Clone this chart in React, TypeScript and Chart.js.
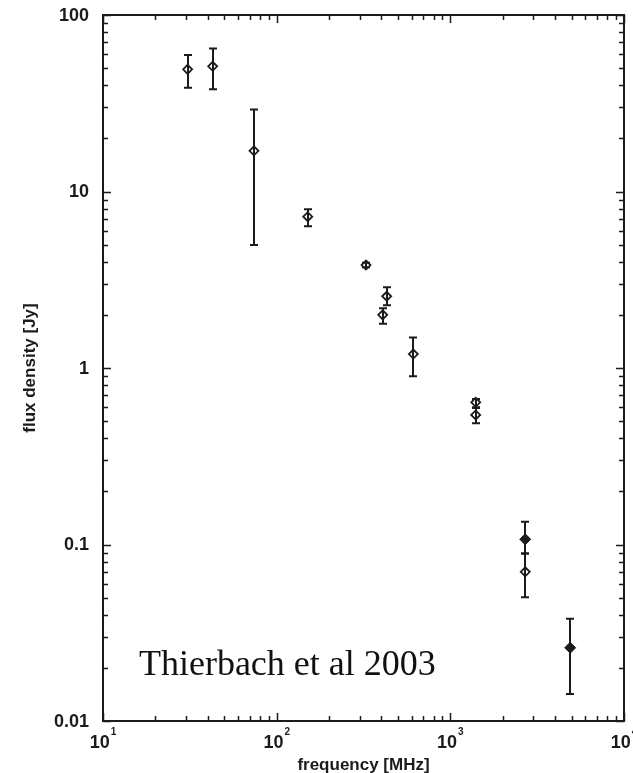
import React, { useEffect, useRef } from 'react';
import { Chart, registerables } from 'chart.js';

Chart.register(...registerables);

// ---- data ----
const frequencyMHz = [30.7, 42.8, 74, 151, 327, 408, 430, 612, 1400, 1400, 2700, 2700, 4900];
const fluxJy = [49.2, 51.2, 17.0, 7.2, 3.83, 2.0, 2.55, 1.2, 0.639, 0.542, 0.107, 0.07, 0.026];
const fluxLow = [38.7, 37.9, 4.98, 6.35, 3.72, 1.78, 2.27, 0.897, 0.6, 0.486, 0.089, 0.0503, 0.0142];
const fluxHigh = [59.3, 64.7, 29.1, 7.93, 3.95, 2.18, 2.87, 1.49, 0.667, 0.593, 0.1346, 0.089, 0.038];
const markerFilled = [false, false, false, false, false, false, false, false, false, false, true, false, true];

// ---- axes ----
const xDecades = [10, 100, 1000, 10000];
const xExponents = ['1', '2', '3', '4'];
const yDecades = [100, 10, 1, 0.1, 0.01];
const yTickLabels = ['100', '10', '1', '0.1', '0.01'];
const minorMultipliers = [2, 3, 4, 5, 6, 7, 8, 9];

const xTitle = 'frequency [MHz]';
const yTitle = 'flux density [Jy]';
const annotationText = 'Thierbach et al 2003';
const annotationFreq = 16.1;
const annotationFlux = 0.0182;

const INK = '#1b1b1b';
const SANS = '"Liberation Sans", Arial, Helvetica, sans-serif';

const gnuplotPlugin = {
  id: 'gnuplotLook',
  beforeDatasetsDraw(chart: any) {
    const { ctx } = chart;
    const x = chart.scales.x;
    const y = chart.scales.y;
    ctx.save();
    ctx.strokeStyle = INK;
    ctx.lineWidth = 2;
    ctx.lineCap = 'butt';
    for (let i = 0; i < frequencyMHz.length; i++) {
      const px = Math.round(x.getPixelForValue(frequencyMHz[i]));
      const lo = y.getPixelForValue(fluxLow[i]);
      const hi = y.getPixelForValue(fluxHigh[i]);
      ctx.beginPath();
      ctx.moveTo(px, lo);
      ctx.lineTo(px, hi);
      ctx.moveTo(px - 4, lo);
      ctx.lineTo(px + 4, lo);
      ctx.moveTo(px - 4, hi);
      ctx.lineTo(px + 4, hi);
      ctx.stroke();
    }
    ctx.restore();
  },
  afterDraw(chart: any) {
    const { ctx, chartArea } = chart;
    const x = chart.scales.x;
    const y = chart.scales.y;
    const { left, right, top, bottom } = chartArea;
    ctx.save();
    ctx.strokeStyle = INK;
    ctx.fillStyle = INK;

    // frame
    ctx.lineWidth = 2;
    ctx.strokeRect(left, top, right - left, bottom - top);

    // ticks
    ctx.lineWidth = 1.5;
    ctx.beginPath();
    yDecades.forEach((d) => {
      [1, ...minorMultipliers].forEach((m) => {
        const v = d * m;
        if (v < y.min * 0.999 || v > y.max * 1.001) return;
        const py = Math.round(y.getPixelForValue(v)) + 0.5;
        const len = m === 1 ? 8 : 5;
        ctx.moveTo(left, py);
        ctx.lineTo(left + len, py);
        ctx.moveTo(right, py);
        ctx.lineTo(right - len, py);
      });
    });
    xDecades.forEach((d) => {
      [1, ...minorMultipliers].forEach((m) => {
        const v = d * m;
        if (v < x.min * 0.999 || v > x.max * 1.001) return;
        const px = Math.round(x.getPixelForValue(v)) + 0.5;
        const len = m === 1 ? 8 : 5;
        ctx.moveTo(px, bottom);
        ctx.lineTo(px, bottom - len);
        ctx.moveTo(px, top);
        ctx.lineTo(px, top + len);
      });
    });
    ctx.stroke();

    // y tick labels
    ctx.font = `bold 18px ${SANS}`;
    ctx.textAlign = 'right';
    ctx.textBaseline = 'middle';
    yDecades.forEach((d, i) => {
      ctx.fillText(yTickLabels[i], left - 14, y.getPixelForValue(d) + 1);
    });

    // x tick labels: 10^n
    ctx.textBaseline = 'alphabetic';
    ctx.textAlign = 'left';
    xDecades.forEach((d, i) => {
      const px = x.getPixelForValue(d);
      ctx.font = `bold 18px ${SANS}`;
      const wBase = ctx.measureText('10').width;
      ctx.font = `bold 10px ${SANS}`;
      const wExp = ctx.measureText(xExponents[i]).width;
      const start = px - (wBase + 1 + wExp) / 2;
      ctx.font = `bold 18px ${SANS}`;
      ctx.fillText('10', start, bottom + 27);
      ctx.font = `bold 10px ${SANS}`;
      ctx.fillText(xExponents[i], start + wBase + 1, bottom + 14);
    });

    // axis titles
    ctx.font = `bold 17px ${SANS}`;
    ctx.textAlign = 'center';
    ctx.fillText(xTitle, (left + right) / 2, bottom + 49);
    ctx.save();
    ctx.translate(left - 68, (top + bottom) / 2);
    ctx.rotate(-Math.PI / 2);
    ctx.fillText(yTitle, 0, 0);
    ctx.restore();

    // annotation
    ctx.font = `36px "Liberation Serif", "DejaVu Serif", serif`;
    ctx.textAlign = 'left';
    ctx.fillStyle = '#111';
    ctx.fillText(annotationText, x.getPixelForValue(annotationFreq), y.getPixelForValue(annotationFlux));
    ctx.restore();
  },
};

export default function App() {
  const canvasRef = useRef<HTMLCanvasElement | null>(null);

  useEffect(() => {
    const canvas = canvasRef.current;
    if (!canvas) return;
    const points = frequencyMHz.map((f, i) => ({ x: f, y: fluxJy[i] }));
    const chart = new Chart(canvas, {
      type: 'scatter',
      data: {
        datasets: [
          {
            label: 'open',
            data: points.filter((_, i) => !markerFilled[i]),
            pointStyle: 'rectRot',
            pointRadius: 4.5,
            pointBorderWidth: 1.8,
            borderColor: INK,
            backgroundColor: 'rgba(255,255,255,0)',
            showLine: false,
          },
          {
            label: 'filled',
            data: points.filter((_, i) => markerFilled[i]),
            pointStyle: 'rectRot',
            pointRadius: 5.5,
            pointBorderWidth: 1,
            borderColor: INK,
            backgroundColor: INK,
            showLine: false,
          },
        ],
      },
      options: {
        responsive: false,
        animation: false,
        devicePixelRatio: 1,
        events: [],
        layout: { padding: { left: 103, top: 15, right: 9, bottom: 52 } },
        plugins: { legend: { display: false }, tooltip: { enabled: false } },
        scales: {
          x: { type: 'logarithmic', min: 10, max: 10000, display: false },
          y: { type: 'logarithmic', min: 0.01, max: 100, display: false },
        },
      },
      plugins: [gnuplotPlugin],
    });
    return () => chart.destroy();
  }, []);

  return (
    <div style={{ position: 'absolute', left: 0, top: 0, width: 633, height: 773, background: '#fff' }}>
      <canvas ref={canvasRef} width={633} height={773} style={{ display: 'block' }} />
    </div>
  );
}
